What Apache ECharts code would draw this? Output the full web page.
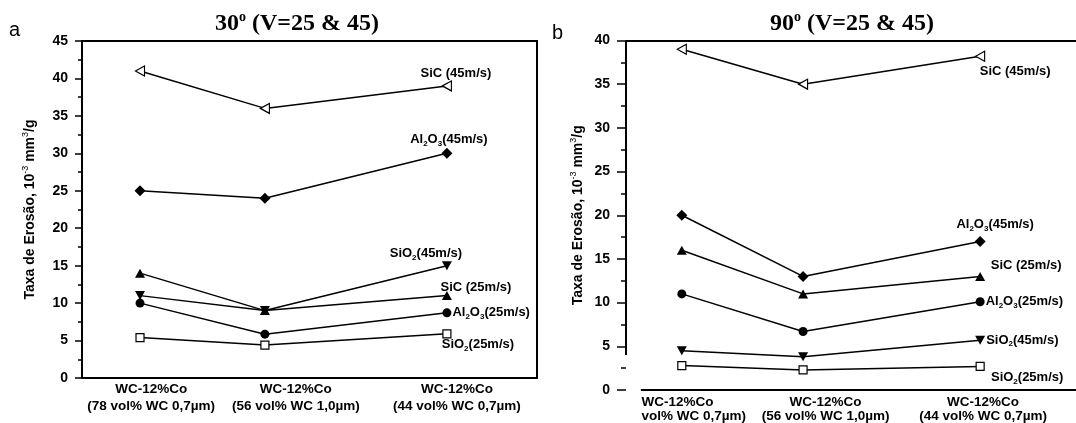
<!DOCTYPE html>
<html>
<head>
<meta charset="utf-8">
<script src="https://cdn.jsdelivr.net/npm/echarts@6/dist/echarts.min.js"></script>
<style>html,body{margin:0;padding:0;background:#fff}#chart{width:1076px;height:423px}</style>
</head>
<body>
<div id="chart"></div>
<script>
// categories
const catsA = ['WC-12%Co|(78 vol% WC 0,7µm)', 'WC-12%Co|(56 vol% WC 1,0µm)', 'WC-12%Co|(44 vol% WC 0,7µm)'];
const catsB = ['WC-12%Co|vol% WC 0,7µm)', 'WC-12%Co|(56 vol% WC 1,0µm)', 'WC-12%Co|(44 vol% WC 0,7µm)'];

// 30 deg
const sic45A = [41, 36, 39];
const al45A = [25, 24, 30];
const sio45A = [11, 9, 15];
const sic25A = [14, 9, 11];
const al25A = [10, 5.85, 8.7];
const sio25A = [5.4, 4.4, 5.9];

// 90 deg
const sic45B = [39, 35, 38.2];
const al45B = [20, 13, 17];
const sic25B = [16, 11, 13];
const al25B = [11, 6.7, 10.1];
const sio45B = [4.5, 3.8, 5.7];
const sio25B = [2.8, 2.3, 2.7];

// series names (rich text, subscripts)
const nSic45 = '{t|SiC (45m/s)}';
const nAl45 = '{t|Al}{s|2}{t|O}{s|3}{t|(45m/s)}';
const nSio45 = '{t|SiO}{s|2}{t|(45m/s)}';
const nSic25 = '{t|SiC (25m/s)}';
const nAl25 = '{t|Al}{s|2}{t|O}{s|3}{t|(25m/s)}';
const nSio25 = '{t|SiO}{s|2}{t|(25m/s)}';

// layout: where the compositions sit along each plot (fraction of width)
const ptPosA = [0.1275, 0.402, 0.802];
const labPosA = [0.152, 0.47, 0.824];
const ptPosB = [0.124, 0.3935, 0.787];
const labPosB = [0.151, 0.4435, 0.7935];

const FONT = '"Liberation Sans", Arial, sans-serif';
const SERIF = '"Liberation Serif", "Times New Roman", serif';

const labRich = {
  t: {fontFamily: FONT, fontSize: 13, fontWeight: 'bold', color: '#000', lineHeight: 16},
  s: {fontFamily: FONT, fontSize: 8, fontWeight: 'bold', color: '#000', verticalAlign: 'bottom'}
};

const SYM = {
  sic45: {symbol: 'triangle', size: [10, 9], rotate: 90, open: true},
  al45: {symbol: 'diamond', size: [11, 11]},
  sio45: {symbol: 'triangle', size: [10, 9], rotate: 180},
  sic25: {symbol: 'triangle', size: [10, 9]},
  al25: {symbol: 'circle', size: 9},
  sio25: {symbol: 'rect', size: 8, open: true}
};

function line(g, vals, pos, sym, name, lab) {
  return {
    type: 'line', xAxisIndex: g, yAxisIndex: g,
    data: vals.map((v, i) => i === vals.length - 1
      ? {value: [pos[i], v], label: Object.assign({show: true, formatter: () => name, rich: labRich}, lab)}
      : [pos[i], v]),
    symbol: sym.symbol, symbolSize: sym.size, symbolRotate: sym.rotate || 0,
    itemStyle: sym.open ? {color: '#fff', borderColor: '#000', borderWidth: 1.2} : {color: '#000'},
    lineStyle: {color: '#000', width: 1.5},
    emphasis: {disabled: true},
    z: 3
  };
}

function xLabel(cats, pos, rich) {
  return {
    customValues: pos,
    interval: 0,
    formatter: v => {
      let i = 0;
      pos.forEach((p, k) => { if (Math.abs(p - v) < Math.abs(pos[i] - v)) i = k; });
      const [a, b] = cats[i].split('|');
      const key = (rich.l && i === 0) ? 'l' : 'a';
      return '{' + key + '|' + a + '}\n{' + key + '|' + b + '}';
    },
    rich: rich
  };
}

function yAxis(g, max, tick, minor, margin, gap, lineShow) {
  return {
    gridIndex: g, type: 'value', min: 0, max: max, interval: 5,
    axisLine: {show: lineShow, lineStyle: {color: '#000', width: 2}},
    axisTick: {show: true, length: tick, lineStyle: {color: '#000', width: 1.5}},
    minorTick: {show: true, splitNumber: 2, length: minor, lineStyle: {color: '#000', width: 1.5}},
    splitLine: {show: false},
    axisLabel: {color: '#000', fontFamily: FONT, fontSize: 14, fontWeight: 'bold', margin: margin},
    name: '{n|Taxa de Erosão, 10}{p|-3}{n| mm}{p|3}{n|/g}',
    nameLocation: 'middle', nameRotate: 90, nameGap: gap,
    nameTextStyle: {rich: {
      n: {fontFamily: FONT, fontSize: 14, fontWeight: 'bold', color: '#000', lineHeight: 18},
      p: {fontFamily: FONT, fontSize: 9, color: '#000', verticalAlign: 'top'}
    }}
  };
}

const titleRich = {
  n: {fontFamily: SERIF, fontSize: 24, fontWeight: 'bold', color: '#000', lineHeight: 28},
  sup: {fontFamily: SERIF, fontSize: 14, fontWeight: 'bold', color: '#000', verticalAlign: 'top'}
};

const chart = echarts.init(document.getElementById('chart'), null, {renderer: 'canvas'});
chart.setOption({
  animation: false,
  backgroundColor: '#fff',
  title: [
    {text: '{n|30}{sup|o}{n| (V=25 & 45)}', left: 297, top: 10, padding: 0, textAlign: 'center', textStyle: {rich: titleRich}},
    {text: '{n|90}{sup|o}{n| (V=25 & 45)}', left: 852, top: 10, padding: 0, textAlign: 'center', textStyle: {rich: titleRich}},
    {text: 'a', left: 9, top: 20, padding: 0, textStyle: {fontFamily: FONT, fontSize: 20, fontWeight: 'normal', color: '#000'}},
    {text: 'b', left: 552, top: 23, padding: 0, textStyle: {fontFamily: FONT, fontSize: 20, fontWeight: 'normal', color: '#000'}}
  ],
  grid: [
    {left: 82, top: 41, width: 455, height: 337, show: true, borderColor: '#000', borderWidth: 2, backgroundColor: 'transparent'},
    {left: 626, top: 40.5, width: 460, height: 350, show: false}
  ],
  xAxis: [
    {gridIndex: 0, type: 'value', min: 0, max: 1,
      axisLine: {lineStyle: {color: '#000', width: 2}}, axisTick: {show: false}, splitLine: {show: false},
      axisLabel: Object.assign({margin: 3}, xLabel(catsA, labPosA, {
        a: {fontFamily: FONT, fontSize: 13.5, fontWeight: 'bold', color: '#000', lineHeight: 17}
      }))},
    {gridIndex: 1, type: 'value', min: 0, max: 1,
      axisLine: {show: false}, axisTick: {show: false}, splitLine: {show: false},
      axisLabel: Object.assign({margin: 5}, xLabel(catsB, labPosB, {
        a: {fontFamily: FONT, fontSize: 13.5, fontWeight: 'bold', color: '#000', lineHeight: 14},
        l: {fontFamily: FONT, fontSize: 13.5, fontWeight: 'bold', color: '#000', lineHeight: 14, width: 105, align: 'left'}
      }))}
  ],
  yAxis: [
    yAxis(0, 45, 7, 4, 14, 43, true),
    yAxis(1, 40, 9, 5, 16, 39, false)
  ],
  series: [
    line(0, sic45A, ptPosA, SYM.sic45, nSic45, {position: 'inside', offset: [9, -13]}),
    line(0, al45A, ptPosA, SYM.al45, nAl45, {position: 'inside', offset: [2, -14]}),
    line(0, sio45A, ptPosA, SYM.sio45, nSio45, {position: 'inside', offset: [-21, -12]}),
    line(0, sic25A, ptPosA, SYM.sic25, nSic25, {position: 'inside', offset: [29, -8]}),
    line(0, al25A, ptPosA, SYM.al25, nAl25, {position: 'right', distance: 1}),
    line(0, sio25A, ptPosA, SYM.sio25, nSio25, {position: 'inside', offset: [31, 11]}),

    Object.assign(line(1, sic45B, ptPosB, SYM.sic45, nSic45, {position: 'inside', offset: [35, 15]}), {
      markLine: {
        silent: true, symbol: ['none', 'none'], label: {show: false},
        lineStyle: {type: 'solid', color: '#000', width: 2},
        data: [
          [{coord: [0, 40]}, {coord: [1, 40]}],
          [{coord: [0, 40]}, {coord: [0, 4]}],
          [{coord: [0.033, 0]}, {coord: [1, 0]}]
        ]
      }
    }),
    line(1, al45B, ptPosB, SYM.al45, nAl45, {position: 'inside', offset: [15, -17]}),
    line(1, sic25B, ptPosB, SYM.sic25, nSic25, {position: 'inside', offset: [46, -11]}),
    line(1, al25B, ptPosB, SYM.al25, nAl25, {position: 'right', distance: 1}),
    line(1, sio45B, ptPosB, SYM.sio45, nSio45, {position: 'right', distance: 1}),
    line(1, sio25B, ptPosB, SYM.sio25, nSio25, {position: 'inside', offset: [47, 11]})
  ]
});
</script>
</body>
</html>
